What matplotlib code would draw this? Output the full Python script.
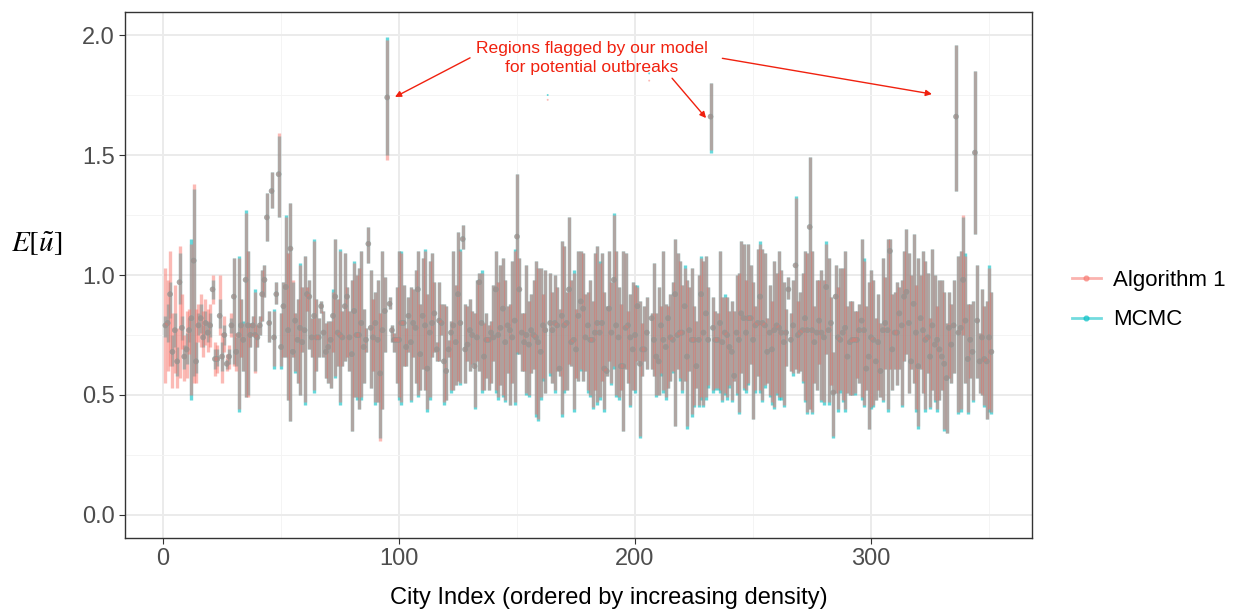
import numpy as np
import matplotlib.pyplot as plt
from matplotlib.lines import Line2D

plt.rcParams['font.family'] = ['Liberation Sans', 'DejaVu Sans']
plt.rcParams['mathtext.fontset'] = 'stix'

# values in hundredths, city index 1..351
alg_mean_s = """
79 80 92 68 77 64 97 78 66 69  77 82 106 64 79 82 74 80 76 79  94 65 65 83 66 75 63 66 79 91
68 75 79 73 98 79 75 79 75 74  79 92 98 124 80 135 74 92 142 70  87 95 77 111 68 81 73 78 72 77
92 91 74 83 74 74 87 76 68 70  73 83 91 76 75 74 87 91 74 67  85 75 75 80 70 73 113 78 74 80
73 59 77 85 174 88 77 73 73 73  80 80 70 83 72 80 78 94 67 83  79 61 76 80 84 69 81 80 64 60
69 76 79 72 92 80 115 69 71 77  75 62 74 97 80 66 73 73 76 74  94 75 78 86 72 79 77 74 81 116
94 76 72 75 71 77 75 74 72 68  79 77 173 80 77 80 79 61 83 79  80 94 72 73 69 83 89 86 74 79
73 73 76 80 76 80 61 60 86 76  98 79 74 62 62 78 79 74 69 75  87 63 69 69 76 181 82 73 66 64
79 73 70 82 74 73 92 75 76 76  87 66 77 73 73 62 73 92 76 84  73 166 78 73 73 80 72 76 75 70
68 58 76 73 84 82 76 82 82 73  79 80 91 80 79 68 76 69 77 79  78 76 72 76 94 73 79 104 75 76
77 82 77 120 77 72 76 81 76 74  95 77 80 51 91 74 73 76 78 66  72 73 73 73 77 81 77 61 66 74
73 64 72 60 77 80 77 110 69 76  76 84 79 91 93 80 64 88 76 62  82 77 73 74 66 79 71 73 69 66
63 57 78 71 79 166 76 78 98 81  65 73 68 151 81 64 74 65 64 74  68
"""
alg_hi_s = """
103 98 110 84 96 78 112 92 75 85  86 113 138 86 88 92 85 90 86 88  100 72 71 100 76 83 67 71 84 107
76 107 90 80 126 110 80 83 93 79  83 102 104 134 85 143 85 97 159 84  97 124 109 130 98 84 90 104 95 108
95 98 82 114 90 82 89 85 80 81  81 93 115 90 110 85 109 95 85 98  105 100 103 110 86 78 120 102 90 93
98 84 110 99 198 91 79 76 95 110  109 96 78 91 95 94 102 110 88 107  110 92 106 109 97 72 97 88 88 87
73 81 110 96 118 110 121 88 87 90  85 84 98 101 101 80 84 79 81 96  110 97 104 107 98 87 88 106 110 142
107 84 84 104 89 92 98 106 103 103  92 102 173 101 93 100 95 86 114 112  93 124 98 101 86 110 110 109 92 93
98 89 109 112 105 109 93 87 110 97  125 110 95 88 110 109 85 92 97 96  95 89 80 87 91 181 84 105 84 95
87 110 88 87 92 97 115 109 106 96  103 98 95 103 87 81 100 107 106 108  95 180 91 85 84 110 91 91 91 85
89 85 100 101 114 113 98 113 104 97  87 111 113 111 109 82 96 89 106 101  110 102 97 86 99 84 98 132 89 93
101 110 109 149 110 87 98 98 102 98  113 107 91 68 104 95 103 103 110 87  89 89 85 85 88 115 106 87 97 102
98 82 92 80 107 99 115 115 92 93  97 95 98 110 119 109 100 117 96 107  100 110 106 101 82 111 100 87 98 98
93 80 93 88 98 196 108 110 125 108  88 88 89 185 104 76 94 87 89 103  93
"""
alg_lo_s = """
55 60 62 53 59 53 57 69 56 57  67 50 55 55 72 70 66 71 68 70  88 58 59 75 55 68 60 61 74 62
60 44 66 60 49 49 70 75 59 70  75 81 91 114 72 128 62 88 124 62  66 66 48 39 66 60 55 50 68 47
85 69 66 52 60 66 84 66 57 55  53 68 58 62 47 62 64 66 60 35  49 49 44 49 55 68 105 53 60 47
47 31 44 68 148 86 72 68 55 49  47 62 62 68 48 66 55 50 52 61  52 44 49 66 68 64 64 75 47 48
66 52 52 54 56 55 111 55 64 60  63 45 64 60 52 52 57 52 55 64  52 49 54 50 48 59 46 55 47 68
67 60 60 51 50 59 61 42 40 49  57 51 173 59 55 52 60 58 42 52  52 63 62 44 57 56 61 56 60 52
50 45 52 47 49 56 44 58 64 55  62 50 49 52 35 61 55 46 52 52  64 33 58 64 61 181 61 58 50 50
59 52 49 53 56 60 37 61 57 52  56 37 60 42 46 53 46 49 46 49  54 152 52 53 53 52 48 51 49 54
48 56 51 43 59 53 52 55 63 40  52 58 52 48 54 55 50 47 45 51  49 49 46 62 90 60 59 61 59 60
56 48 43 44 43 55 52 63 48 47  67 47 54 33 51 44 52 48 44 51  50 50 51 57 55 49 46 52 36 45
46 48 52 49 48 61 44 61 52 61  54 61 46 64 67 51 61 55 44 37  61 51 44 59 45 52 48 44 48 52
36 34 57 55 59 135 43 44 75 55  43 57 48 117 57 51 50 46 40 44  43
"""
mcmc_mean_s = """
79 80 92 68 77 64 97 78 66 69  77 82 106 64 79 82 74 80 76 79  94 65 65 83 66 75 63 66 79 91
68 75 79 73 98 79 75 79 75 74  79 92 98 124 80 135 74 92 142 70  87 95 77 111 68 81 73 78 72 77
92 91 74 83 74 74 87 76 68 70  73 83 91 76 75 74 87 91 74 67  85 75 75 80 70 73 113 78 74 80
73 59 77 85 174 88 77 73 73 73  80 80 70 83 72 80 78 94 67 83  79 61 76 80 84 69 81 80 64 60
69 76 79 72 92 80 115 69 71 77  75 62 74 97 80 66 73 73 76 74  94 75 78 86 72 79 77 74 81 116
94 76 72 75 71 77 75 74 72 68  79 77 175 80 77 80 79 61 83 79  80 94 72 73 69 83 89 86 74 79
73 73 76 80 76 80 61 60 86 76  98 79 74 62 62 78 79 74 69 75  87 63 69 69 76 184 82 73 66 64
79 73 70 82 74 73 92 75 76 76  87 66 77 73 73 62 73 92 76 84  73 166 78 73 73 80 72 76 75 70
68 58 76 73 84 82 76 82 82 73  79 80 91 80 79 68 76 69 77 79  78 76 72 76 94 73 79 104 75 76
77 82 77 120 77 72 76 81 76 74  95 77 80 51 91 74 73 76 78 66  72 73 73 73 77 81 77 61 66 74
73 64 72 60 77 80 77 110 69 76  76 84 79 91 93 80 64 88 76 62  82 77 73 74 66 79 71 73 69 66
63 57 78 71 79 166 76 78 98 81  65 73 68 151 81 64 74 65 64 74  68
"""
mcmc_hi_s = """
83 88 97 75 84 70 109 83 71 76  82 115 136 72 84 88 79 85 81 84  98 69 69 90 72 79 65 69 82 107
74 108 90 81 127 110 80 83 94 79  83 102 104 134 85 143 86 97 158 84  97 125 109 130 97 84 90 105 95 108
95 98 82 115 90 82 89 85 80 81  81 94 115 90 111 85 109 95 85 98  106 100 103 110 86 78 120 102 90 93
98 84 110 99 199 91 79 76 95 110  110 96 78 91 95 94 102 110 88 107  111 92 106 109 97 72 97 88 88 87
73 81 110 96 118 111 121 88 87 90  85 84 98 101 102 80 84 79 81 96  110 97 104 107 98 87 88 106 111 142
107 84 84 104 89 92 98 106 103 103  92 102 175 101 93 100 95 86 114 112  93 124 98 102 86 110 110 109 92 93
98 89 109 112 106 109 93 87 110 97  126 110 95 88 110 109 85 92 97 96  96 89 80 87 91 184 84 105 84 95
87 110 88 87 92 97 115 109 106 96  104 98 95 103 87 81 100 108 106 108  95 180 91 85 84 110 91 92 91 85
89 85 100 101 114 113 98 113 104 97  87 111 114 111 109 82 96 89 106 101  110 102 97 86 99 84 98 133 89 93
101 110 109 149 110 87 98 98 102 98  114 107 91 68 104 95 103 103 110 87  89 89 85 85 88 115 107 87 97 102
98 82 92 80 107 99 115 115 92 93  97 95 98 110 119 109 100 117 96 107  100 110 106 101 82 111 100 87 98 98
93 80 93 88 98 196 108 110 124 109  88 88 89 185 104 76 94 87 89 104  93
"""
mcmc_lo_s = """
74 72 82 62 70 58 88 73 61 63  72 48 58 59 75 76 70 75 72 74  90 61 62 78 60 71 61 63 76 63
62 43 66 60 49 50 70 75 60 70  75 81 91 114 72 128 61 88 124 61  66 66 48 39 66 59 55 50 68 46
85 69 66 51 60 66 84 66 57 55  53 68 57 62 46 62 64 66 60 35  49 48 44 48 55 68 105 53 60 46
47 32 44 68 150 86 72 68 55 48  46 62 62 68 47 66 55 49 52 61  52 43 48 66 68 64 64 75 46 48
66 51 52 54 56 54 111 55 64 60  63 44 64 60 51 52 57 52 55 64  51 48 54 49 47 59 46 55 46 67
67 60 60 50 49 59 61 41 39 48  56 51 175 58 55 51 60 58 41 51  52 63 62 43 57 56 60 56 60 51
49 44 52 46 48 56 43 58 64 54  61 49 48 52 35 61 55 45 52 51  64 32 58 64 61 184 61 58 49 50
58 51 48 53 56 59 37 61 56 51  56 36 60 41 45 53 45 48 45 48  53 151 51 52 52 51 47 50 48 53
47 56 50 42 59 52 51 54 63 40  51 58 51 47 53 55 49 46 44 50  48 48 45 62 90 60 58 61 59 60
55 47 42 44 42 55 52 63 47 46  67 46 54 32 51 43 51 47 43 51  50 50 50 57 55 48 45 52 36 44
45 48 52 49 47 61 43 61 52 61  54 61 45 64 67 51 61 55 43 36  61 51 43 59 44 52 47 43 48 52
35 34 57 55 59 135 42 43 75 55  42 57 47 117 57 51 50 45 40 43  42
"""

series_names = ["Algorithm 1", "MCMC"]
series_colors = ["#F8766D", "#00BFC4"]

annot_text = "Regions flagged by our model\nfor potential outbreaks"


def parse(s):
    return np.array(s.split(), dtype=float) / 100


alg_mean = parse(alg_mean_s)
alg_hi = parse(alg_hi_s)
alg_lo = parse(alg_lo_s)
mcmc_mean = parse(mcmc_mean_s)
mcmc_hi = parse(mcmc_hi_s)
mcmc_lo = parse(mcmc_lo_s)
for arr in (alg_mean, alg_hi, alg_lo, mcmc_mean, mcmc_hi, mcmc_lo):
    assert len(arr) == 351, len(arr)

city = np.arange(1, len(alg_mean) + 1)

fig = plt.figure(figsize=(12.38, 6.09), dpi=100)
ax = fig.add_axes([125 / 1238, 1 - 538 / 609, (1032 - 125) / 1238, (538 - 12) / 609])

# MCMC underneath, Algorithm 1 on top
ax.vlines(city, mcmc_lo, mcmc_hi, color=series_colors[1], alpha=0.6, lw=2.4, zorder=2)
ax.vlines(city, alg_lo, alg_hi, color=series_colors[0], alpha=0.5, lw=2.4, zorder=3)
size_m = np.where(mcmc_hi > mcmc_lo, 16, 2)
size_a = np.where(alg_hi > alg_lo, 16, 2)
ax.scatter(city, mcmc_mean, s=size_m, color=series_colors[1], alpha=0.6, lw=0, zorder=4)
ax.scatter(city, alg_mean, s=size_a, color=series_colors[0], alpha=0.5, lw=0, zorder=5)

ax.set_xlim(-16.1, 368.2)
ax.set_ylim(-0.096, 2.096)
ax.set_xticks([0, 100, 200, 300])
ax.set_xticks([50, 150, 250, 350], minor=True)
ax.set_yticks([0, 0.5, 1.0, 1.5, 2.0])
ax.set_yticks([0.25, 0.75, 1.25, 1.75], minor=True)
ax.grid(True, which='major', color='#EBEBEB', lw=1.4, zorder=0)
ax.grid(True, which='minor', color='#F4F4F4', lw=0.7, zorder=0)
ax.set_axisbelow(True)
for sp in ax.spines.values():
    sp.set_color('#333333')
    sp.set_linewidth(1.0)
ax.tick_params(which='major', length=4, color='#333333', labelsize=17, labelcolor='#4D4D4D')
ax.tick_params(which='minor', length=0)
ax.set_yticklabels(["0.0", "0.5", "1.0", "1.5", "2.0"])

fig.text(609 / 1238, 1 - 604 / 609, "City Index (ordered by increasing density)",
         fontsize=17, ha='center', va='baseline')
fig.text(11 / 1238, 1 - 244 / 609, r"$E[\tilde{u}]$", fontsize=21, ha='left', va='center')

# annotation with three arrows
red = '#F0210F'
ax.text(181.8, 1.905, annot_text, ha='center', va='center', fontsize=12.6, color=red,
        linespacing=1.3)
arrow_tails = [(130.1, 1.905), (215.7, 1.82), (237.0, 1.903)]
arrow_heads = [(98.3, 1.742), (230.1, 1.654), (325.8, 1.754)]
for tail, head in zip(arrow_tails, arrow_heads):
    ax.annotate("", xy=head, xytext=tail,
                arrowprops=dict(arrowstyle='-|>', color=red, lw=1.0,
                                mutation_scale=9, shrinkA=0, shrinkB=0))

handles = [Line2D([0], [0], color=c, lw=2.0, alpha=0.55, marker='o', markersize=3.5)
           for c in series_colors]
fig.legend(handles, series_names, loc='center left',
           bbox_to_anchor=(1052 / 1238, 1 - 300 / 609), frameon=False,
           fontsize=16, handlelength=1.3, labelspacing=0.85, handletextpad=0.55)

fig.savefig("out.png", dpi=100)
